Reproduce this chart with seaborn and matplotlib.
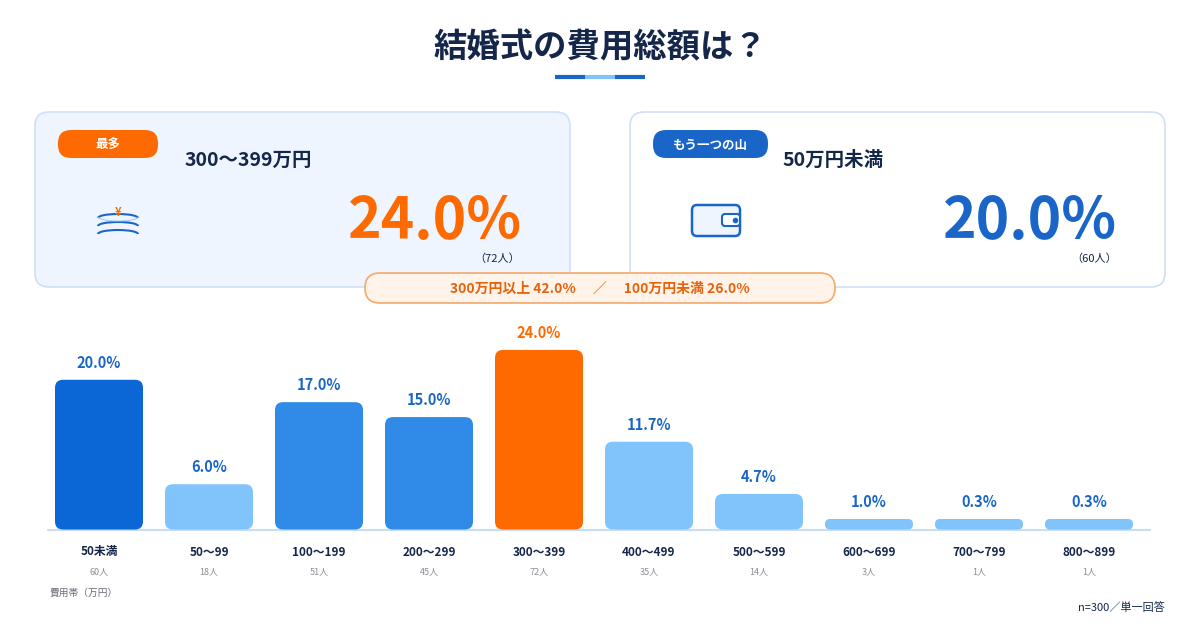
import matplotlib
matplotlib.use("Agg")
import matplotlib.pyplot as plt
import seaborn as sns
import pandas as pd
from matplotlib.patches import FancyBboxPatch, Arc

categories = ["50未満", "50〜99", "100〜199", "200〜299", "300〜399", "400〜499", "500〜599", "600〜699", "700〜799", "800〜899"]
percent = [20.0, 6.0, 17.0, 15.0, 24.0, 11.7, 4.7, 1.0, 0.3, 0.3]
counts = [60, 18, 51, 45, 72, 35, 14, 3, 1, 1]
bar_colors = ["#0b66d6", "#80c4fb", "#2f8ae8", "#2f8ae8", "#ff6a00", "#80c4fb", "#80c4fb", "#80c4fb", "#80c4fb", "#80c4fb"]

sns.set_theme(style="white")
plt.rcParams["font.family"] = ["Noto Sans CJK JP", "DejaVu Sans"]

NAVY = "#14264a"
BLUE = "#1a66c8"
ORANGE = "#ff6a00"

fig = plt.figure(figsize=(12, 6.3), dpi=100)
fig.patch.set_facecolor("white")
W, H = 1200, 630
SP = 110
X0 = 44

ov = fig.add_axes([0, 0, 1, 1])
ov.set_xlim(0, W); ov.set_ylim(H, 0); ov.axis("off")

def rbox(x0, y0, x1, y1, r, fc, ec="none", lw=1, z=1):
    p = FancyBboxPatch((x0 + r, y0 + r), x1 - x0 - 2 * r, y1 - y0 - 2 * r,
                       boxstyle=f"round,pad={r}", fc=fc, ec=ec, lw=lw, zorder=z)
    ov.add_patch(p)

ov.text(600, 48, "結婚式の費用総額は？", ha="center", va="center", fontsize=24, fontweight="bold", color=NAVY)
ov.plot([555, 585], [77, 77], color="#1a66c8", lw=3, solid_capstyle="butt")
ov.plot([585, 615], [77, 77], color="#80c4fb", lw=3, solid_capstyle="butt")
ov.plot([615, 645], [77, 77], color="#1a66c8", lw=3, solid_capstyle="butt")

rbox(35, 112, 570, 287, 14, "#eef5fe", "#cfe0f5", 1.2)
rbox(630, 112, 1165, 287, 14, "white", "#cfe0f5", 1.2)
rbox(58, 130, 158, 158, 13, ORANGE, z=2)
ov.text(108, 145, "最多", ha="center", va="center", fontsize=9, fontweight="bold", color="white", zorder=3)
rbox(653, 130, 768, 158, 13, "#1a66c8", z=2)
ov.text(710, 145, "もう一つの山", ha="center", va="center", fontsize=9, fontweight="bold", color="white", zorder=3)
ov.text(185, 160, "300〜399万円", ha="left", va="center", fontsize=14, fontweight="bold", color=NAVY)
ov.text(782, 160, "50万円未満", ha="left", va="center", fontsize=14, fontweight="bold", color=NAVY)
ov.text(522, 222, f"{percent[4]:.1f}%", ha="right", va="center", fontsize=41, fontweight="bold", color=ORANGE)
ov.text(1117, 222, f"{percent[0]:.1f}%", ha="right", va="center", fontsize=41, fontweight="bold", color=BLUE)
ov.text(520, 259, f"（{counts[4]}人）", ha="right", va="center", fontsize=8, color=NAVY)
ov.text(1117, 259, f"（{counts[0]}人）", ha="right", va="center", fontsize=8, color=NAVY)

for yy in (218, 226, 234):
    ov.add_patch(Arc((118, yy), 40, 8, theta1=180, theta2=360, color="#1a66c8", lw=1.5))
ov.add_patch(Arc((118, 217), 40, 8, theta1=0, theta2=180, color="#a9cdf3", lw=0.8))
ov.text(118, 213, "¥", ha="center", va="center", fontsize=8, fontweight="bold", color=ORANGE)
rbox(692, 205, 740, 236, 5, "#eef5fe", "#1a66c8", 1.8, z=2)
rbox(722, 214, 740, 226, 3, "white", "#1a66c8", 1.5, z=3)
ov.plot([735], [220], "o", color="#1a66c8", ms=3, zorder=4)

rbox(365, 273, 835, 303, 15, "#fff3ea", "#f4a86a", 1.2, z=3)
ov.text(600, 289, "300万円以上 42.0%　 ／　 100万円未満 26.0%", ha="center", va="center",
        fontsize=10, fontweight="bold", color="#e8620a", zorder=4)

ax = fig.add_axes([X0 / W, (H - 529) / H, SP * 10 / W, 194 / H])
df = pd.DataFrame({"cat": categories, "pct": percent})
sns.barplot(data=df, x="cat", y="pct", hue="cat", palette=bar_colors, legend=False, width=0.8, ax=ax, saturation=1)
ax.set_xlim(-0.5, 9.5); ax.set_ylim(0, 26)
ax.axis("off")
ax.patch.set_alpha(0)
for p, c in zip(list(ax.patches), bar_colors):
    x, w, h = p.get_x(), p.get_width(), p.get_height()
    p.remove()
    x0 = X0 + (x + 0.5) * SP
    x1 = x0 + w * SP
    y1 = 529
    y0 = 529 - h * 194 / 26
    r = 8
    if y1 - y0 < 10:
        y0 = y1 - 10; r = 5
    rbox(x0, y0, x1, y1 + 0.5, r, c, z=2)
ov.plot([48, 1150], [529.5, 529.5], color="#c9ddf3", lw=1.5, zorder=1)

for i, (c, v, n) in enumerate(zip(categories, percent, counts)):
    xc = X0 + (i + 0.5) * SP
    top = 529 - max(v * 194 / 26, 10)
    ov.text(xc, top - 17, f"{v:.1f}%", ha="center", va="center", fontsize=10.5, fontweight="bold",
            color=ORANGE if i == 4 else BLUE)
    ov.text(xc, 552, c, ha="center", va="center", fontsize=8.5, fontweight="bold", color=NAVY)
    ov.text(xc, 572, f"{n}人", ha="center", va="center", fontsize=6.5, color="#8a8f99")
ov.text(50, 593, "費用帯（万円）", ha="left", va="center", fontsize=7, color="#666b75")
ov.text(1165, 608, "n=300／単一回答", ha="right", va="center", fontsize=8, color=NAVY)

fig.savefig("out.png", dpi=100)
